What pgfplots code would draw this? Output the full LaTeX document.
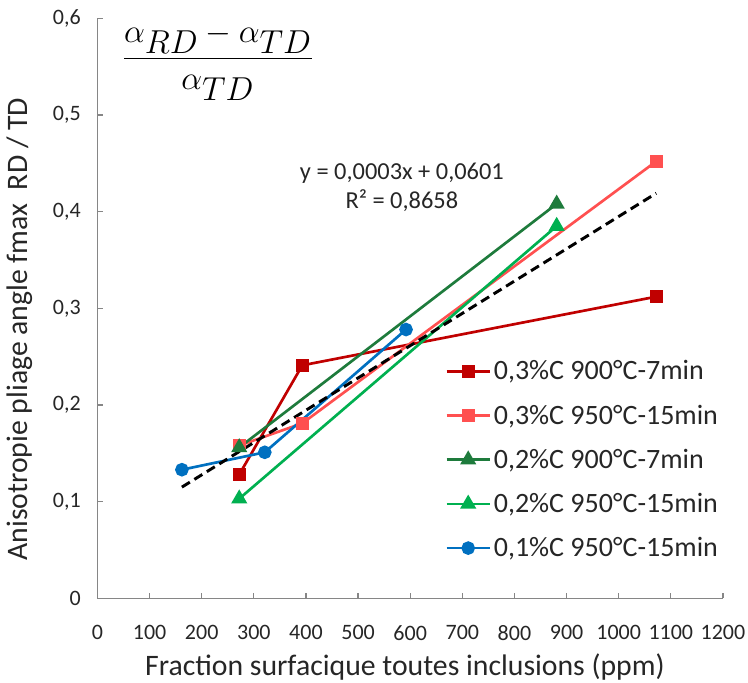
\documentclass[border=0pt]{standalone}
\usepackage{fontspec}
\setmainfont{Carlito}
\usepackage{amsmath}
\usepackage{pgfplots}
\pgfplotsset{compat=1.18}
\definecolor{dred}{HTML}{C00000}
\definecolor{lred}{HTML}{FF5050}
\definecolor{dgreen}{HTML}{1E7B3C}
\definecolor{lgreen}{HTML}{00B050}
\definecolor{cblue}{HTML}{0070C0}
\definecolor{axgray}{HTML}{868686}
\definecolor{txt}{HTML}{262626}
\begin{document}
\begin{tikzpicture}
\useasboundingbox (0,0) rectangle (561pt,511.5pt);
\begin{axis}[
  at={(73.1pt,62.8pt)}, anchor=south west,
  scale only axis, width=469.1pt, height=435pt,
  xmin=0, xmax=1200, ymin=0, ymax=0.6,
  clip=false,
  axis lines=left,
  axis line style={-, draw=axgray, line width=0.9pt},
  xtick={0,100,200,300,400,500,600,700,800,900,1000,1100,1200},
  ytick={0,0.1,0.2,0.3,0.4,0.5,0.6},
  tick align=inside, major tick length=4pt,
  tick style={draw=axgray, line width=0.9pt},
  /pgf/number format/assume math mode=true,
  tick label style={font=\fontsize{16.5}{20}\selectfont, text=txt},
  yticklabel style={/pgf/number format/.cd, fixed, precision=1, use comma, /tikz/.cd, xshift=-9pt},
  xticklabel style={/pgf/number format/.cd, 1000 sep={}, /tikz/.cd, yshift=-17pt},
  xlabel={Fraction surfacique toutes inclusions (ppm)},
  ylabel={Anisotropie pliage angle fmax\ \ RD / TD},
  every axis x label/.style={at={(axis description cs:0.4916,-0.118)}, anchor=center, font=\fontsize{22.3}{26}\selectfont, text=txt},
  every axis y label/.style={at={(axis description cs:-0.124,0.464)}, anchor=center, rotate=90, font=\fontsize{22.3}{26}\selectfont, text=txt},
  legend style={draw=none, fill=none, at={(axis description cs:0.5556,0.4147)}, anchor=north west,
    font=\fontsize{21}{25}\selectfont, text=txt, row sep=13.2pt, inner sep=0pt,
    nodes={inner sep=2pt}},
  legend cell align=left,
  legend image code/.code={\draw[mark repeat=2,mark phase=2] plot coordinates {(0cm,0cm) (0.57cm,0cm) (1.14cm,0cm)};},
]
\addplot[dred, line width=2pt, mark=square*, mark size=3.9pt, mark options={solid}] coordinates {(272,0.128) (393,0.241) (1072,0.312)};
\addlegendentry{0,3\%C 900°C-7min}
\addplot[lred, line width=2pt, mark=square*, mark size=3.9pt, mark options={solid}] coordinates {(272,0.158) (393,0.181) (1072,0.452)};
\addlegendentry{0,3\%C 950°C-15min}
\addplot[dgreen, line width=2pt, mark=triangle*, mark size=5pt, mark options={solid}] coordinates {(272,0.156) (881,0.408)};
\addlegendentry{0,2\%C 900°C-7min}
\addplot[lgreen, line width=2pt, mark=triangle*, mark size=5pt, mark options={solid}] coordinates {(272,0.103) (881,0.385)};
\addlegendentry{0,2\%C 950°C-15min}
\addplot[cblue, line width=2pt, mark=*, mark size=4.1pt, mark options={solid}] coordinates {(162,0.133) (321,0.151) (592,0.278)};
\addlegendentry{0,1\%C 950°C-15min}
\addplot[black, line width=2.2pt, dash pattern=on 7pt off 4pt, forget plot] coordinates {(162,0.115) (1072,0.419)};
\node[anchor=center, text=black] at (axis cs:231,0.5547) {\fontsize{36}{43}\selectfont $\dfrac{\alpha_{RD}-\alpha_{TD}\rule[-5pt]{0pt}{5pt}}{\rule{0pt}{20pt}\alpha_{TD}}$};
\node[align=center, text=txt, font=\fontsize{18.3}{21.5}\selectfont] at (axis cs:584,0.425) {y = 0,0003x + 0,0601\\R² = 0,8658};
\end{axis}
\end{tikzpicture}
\end{document}
